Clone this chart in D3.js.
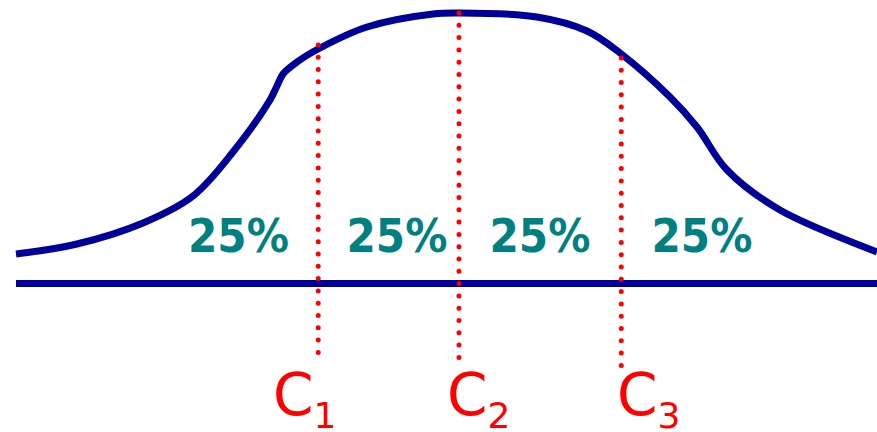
<!DOCTYPE html>
<html>
<head>
<meta charset="utf-8">
<script src="https://cdn.jsdelivr.net/npm/d3@7"></script>
<style>
  html, body { margin: 0; padding: 0; background: #fff; }
  svg { display: block; }
</style>
</head>
<body>
<svg id="chart" width="877" height="432"></svg>
<script>
// ---- data (x and y in arbitrary units: x 0..100, density 0..100) ----
const curveX = [0, 7.08, 14.75, 20.56, 25.2, 29.5, 30.31, 31.01, 32.64, 35.31, 40.77, 48.43, 51.45, 60.51, 66.32, 70.15, 75.96, 79.09, 82.58, 88.73, 100];
const curveY = [10.91, 14.6, 22.37, 32.35, 48.61, 67.84, 73.01, 77.45, 81.89, 87.06, 94.82, 99.63, 100, 98.52, 93.35, 85.21, 68.95, 57.86, 41.96, 27.17, 11.65];

const quartileNames = ["C", "C", "C"];
const quartileSubs = ["1", "2", "3"];
const quartileX = [35.1, 51.45, 70.3];
const quartileTop = [88.2, 100, 83.4];
const quartileBottom = [-25.6, -27.4, -30.3];
const quartileLabelX = [29.85, 50.06, 69.8];
const quartileLabelY = -48.6;

const shareLabels = ["25%", "25%", "25%", "25%"];
const shareX = [25.84, 44.25, 60.86, 79.67];
const shareY = 11.6;

// ---- scales ----
const x = d3.scaleLinear().domain([0, 100]).range([16, 877]);
const y = d3.scaleLinear().domain([0, 100]).range([283.5, 13]);

const svg = d3.select("#chart");
const navy = "#000099", red = "#ff0000", teal = "#008080";

// baseline
svg.append("line")
  .attr("x1", x(0)).attr("x2", x(100))
  .attr("y1", y(0)).attr("y2", y(0))
  .attr("stroke", navy).attr("stroke-width", 7);

// curve
const pts = curveX.map((d, i) => [d, curveY[i]]);
svg.append("path")
  .datum(pts)
  .attr("fill", "none")
  .attr("stroke", navy)
  .attr("stroke-width", 7)
  .attr("stroke-linejoin", "round")
  .attr("d", d3.line().x(d => x(d[0])).y(d => y(d[1])).curve(d3.curveCatmullRom.alpha(0.5)));

// quartile dotted lines
svg.selectAll("line.q")
  .data(quartileX)
  .join("line")
  .attr("class", "q")
  .attr("x1", d => x(d)).attr("x2", d => x(d))
  .attr("y1", (d, i) => y(quartileTop[i]))
  .attr("y2", (d, i) => y(quartileBottom[i]))
  .attr("stroke", red)
  .attr("stroke-width", 5)
  .attr("stroke-linecap", "round")
  .attr("stroke-dasharray", "0 12.3");

// 25% labels
svg.selectAll("text.share")
  .data(shareLabels)
  .join("text")
  .attr("class", "share")
  .attr("x", (d, i) => x(shareX[i]))
  .attr("y", y(shareY))
  .attr("text-anchor", "middle")
  .attr("font-family", "DejaVu Sans, Verdana, sans-serif")
  .attr("font-weight", "bold")
  .attr("font-size", 46)
  .attr("textLength", 101)
  .attr("lengthAdjust", "spacingAndGlyphs")
  .attr("fill", teal)
  .text(d => d);

// C labels with subscripts
const ql = svg.selectAll("text.ql")
  .data(quartileNames)
  .join("text")
  .attr("class", "ql")
  .attr("x", (d, i) => x(quartileLabelX[i]))
  .attr("y", y(quartileLabelY))
  .attr("font-family", "DejaVu Sans, Verdana, sans-serif")
  .attr("font-size", 58)
  .attr("fill", red);
ql.append("tspan").text(d => d);
ql.append("tspan")
  .attr("font-size", 36)
  .attr("dy", 13)
  .text((d, i) => quartileSubs[i]);
</script>
</body>
</html>
